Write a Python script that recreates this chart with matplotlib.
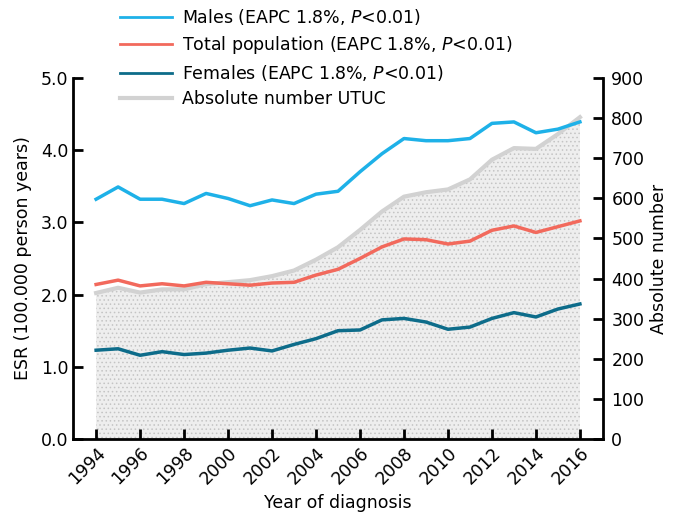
import matplotlib
matplotlib.use("Agg")
import matplotlib.pyplot as plt
from matplotlib.lines import Line2D

plt.rcParams["font.family"] = "DejaVu Sans"
plt.rcParams["mathtext.fontset"] = "custom"
plt.rcParams["mathtext.it"] = "DejaVu Sans:italic"
plt.rcParams["hatch.color"] = "#c4c4c4"
plt.rcParams["hatch.linewidth"] = 0.6

years = list(range(1994, 2017))
males = [3.32, 3.49, 3.32, 3.32, 3.26, 3.40, 3.33, 3.23, 3.31, 3.26, 3.39, 3.43,
         3.70, 3.95, 4.16, 4.13, 4.13, 4.16, 4.37, 4.39, 4.24, 4.29, 4.39]
total = [2.14, 2.20, 2.12, 2.15, 2.12, 2.17, 2.15, 2.13, 2.16, 2.17, 2.27, 2.35,
         2.50, 2.66, 2.77, 2.76, 2.70, 2.74, 2.89, 2.95, 2.86, 2.94, 3.02]
females = [1.23, 1.25, 1.16, 1.21, 1.17, 1.19, 1.23, 1.26, 1.22, 1.31, 1.39, 1.50,
           1.51, 1.65, 1.67, 1.62, 1.52, 1.55, 1.67, 1.75, 1.69, 1.80, 1.87]
absolute = [364, 377, 365, 373, 373, 386, 391, 396, 406, 420, 447, 478,
            521, 567, 604, 615, 622, 647, 696, 725, 723, 760, 802]

c_male = "#1eb1e8"
c_total = "#f2695c"
c_female = "#0d6c8a"
c_abs = "#d2d2d2"

fig = plt.figure(figsize=(6.73, 5.19), dpi=100)
ax1 = fig.add_axes([0.1085, 0.154, 0.7875, 0.696])
ax2 = ax1.twinx()
ax1.set_zorder(ax2.get_zorder() + 1)
ax1.patch.set_visible(False)

# absolute number as dotted area on the right axis
ax2.fill_between(years, absolute, 0, facecolor="#eeeeee", hatch="....", edgecolor="#c4c4c4", linewidth=0)
ax2.plot(years, absolute, color=c_abs, lw=3)

ax1.plot(years, males, color=c_male, lw=2.5)
ax1.plot(years, total, color=c_total, lw=2.5)
ax1.plot(years, females, color=c_female, lw=2.5)

ax1.set_xlim(1992.95, 2017.05)
ax1.set_ylim(0, 5)
ax2.set_ylim(0, 900)
ax1.set_yticks([0, 1, 2, 3, 4, 5])
ax1.set_yticklabels(["0.0", "1.0", "2.0", "3.0", "4.0", "5.0"])
ax2.set_yticks(range(0, 901, 100))
ax1.set_xticks(years[::2])
ax1.set_xticklabels([str(y) for y in years[::2]], rotation=45, ha="right", rotation_mode="anchor")

for ax in (ax1, ax2):
    ax.spines["top"].set_visible(False)
    for s in ("left", "right", "bottom"):
        ax.spines[s].set_linewidth(2)
    ax.tick_params(direction="in", length=7, width=2, labelsize=12.5)
ax1.spines["right"].set_visible(False)
ax2.spines["left"].set_visible(False)
ax2.spines["bottom"].set_visible(False)
ax2.tick_params(axis="y", pad=6)

ax1.set_ylabel("ESR (100.000 person years)", fontsize=12.5, labelpad=6)
ax2.set_ylabel("Absolute number", fontsize=12.5, labelpad=4)
ax1.set_xlabel("Year of diagnosis", fontsize=12.5)

handles = [
    Line2D([], [], color=c_male, lw=2),
    Line2D([], [], color=c_total, lw=2),
    Line2D([], [], color=c_female, lw=2),
    Line2D([], [], color=c_abs, lw=3),
]
labels = [
    "Males (EAPC 1.8%, $\\it{P}$<0.01)",
    "Total population (EAPC 1.8%, $\\it{P}$<0.01)",
    "Females (EAPC 1.8%, $\\it{P}$<0.01)",
    "Absolute number UTUC",
]
fig.legend(handles, labels, loc="upper left", bbox_to_anchor=(0.155, 1.017), frameon=False,
           fontsize=12.5, handlelength=3.0, handletextpad=0.6, labelspacing=0.4)

fig.savefig("out.png", dpi=100)
